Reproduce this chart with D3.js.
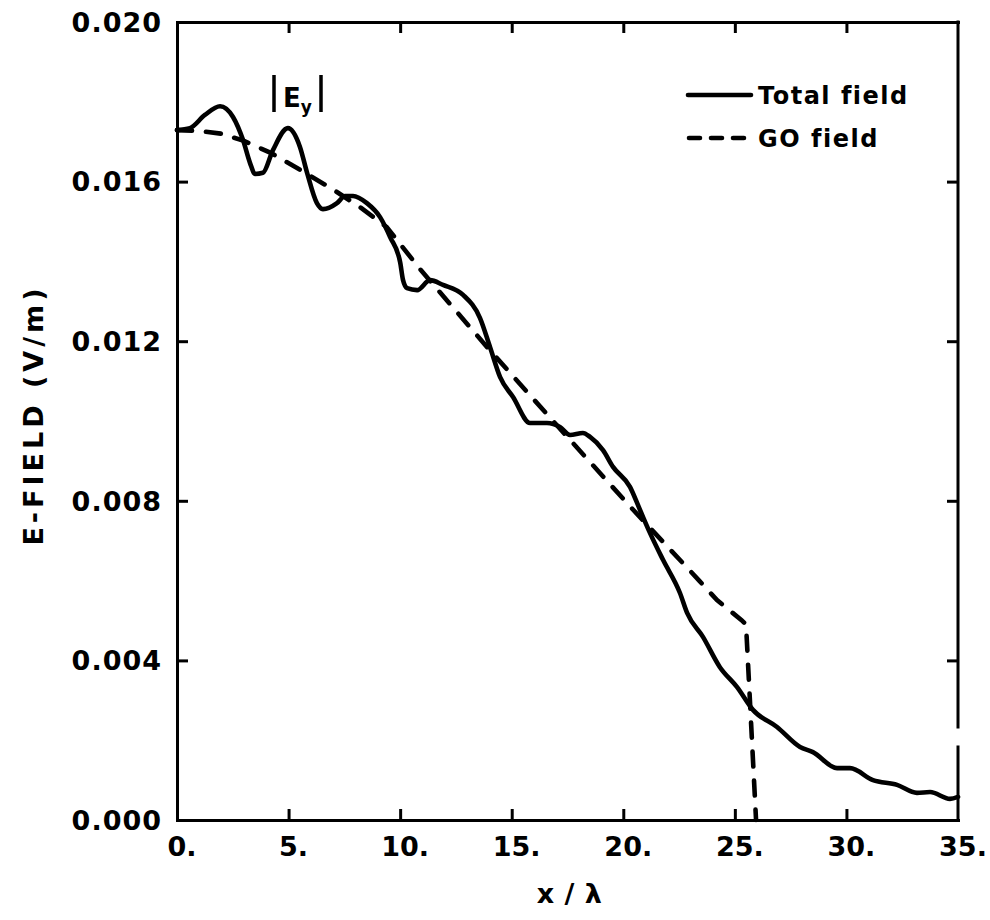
<!DOCTYPE html>
<html>
<head>
<meta charset="utf-8">
<script src="https://cdn.jsdelivr.net/npm/d3@7/dist/d3.min.js"></script>
<style>
  html, body { margin: 0; padding: 0; background: #fff; }
  svg { display: block; }
  text { font-family: "DejaVu Sans", sans-serif; font-weight: bold; fill: #000; }
</style>
</head>
<body>
<svg id="chart" width="990" height="920"></svg>
<script>
// ---- data ----
const totalX = [0, 0.58, 1.25, 1.93, 2.51, 2.96, 3.27, 3.50, 3.85, 4.30, 4.97, 5.51, 5.83, 6.27, 6.54, 7.17, 7.53, 7.89, 8.51, 9.10, 9.55, 10.0, 10.13, 10.31, 10.76, 11.34, 11.92, 12.82, 13.58, 14.03, 14.48, 15.06, 15.82, 16.58, 17.16, 17.61, 18.19, 18.51, 19.09, 19.54, 20.30, 20.75, 21.20, 21.78, 22.54, 22.86, 23.57, 24.33, 25.10, 25.81, 26.89, 27.92, 28.50, 29.58, 30.16, 31.19, 32.27, 33.16, 33.75, 34.64, 35.0];
const totalY = [0.01729, 0.01734, 0.01767, 0.01789, 0.01762, 0.01704, 0.01647, 0.01619, 0.01622, 0.01679, 0.01734, 0.01687, 0.01622, 0.01546, 0.01531, 0.01546, 0.01564, 0.01564, 0.01546, 0.01511, 0.01461, 0.01398, 0.01353, 0.01333, 0.01328, 0.01353, 0.01341, 0.01316, 0.01258, 0.01185, 0.01110, 0.01060, 0.00995, 0.00995, 0.00985, 0.00965, 0.00970, 0.00960, 0.00927, 0.00885, 0.00835, 0.00777, 0.00719, 0.00652, 0.00569, 0.00519, 0.00459, 0.00383, 0.00333, 0.00276, 0.00233, 0.00183, 0.00170, 0.00130, 0.00130, 0.00100, 0.00088, 0.00068, 0.00070, 0.00053, 0.00058];
const goX = [0, 1.0, 2.0, 3.0, 4.2, 5.5, 7.0, 8.2, 9.4, 10.9, 13.9, 16.85, 20.4, 23.4, 24.2, 25.3, 25.5, 25.95];
const goY = [0.01729, 0.01727, 0.01720, 0.01702, 0.01672, 0.01630, 0.01580, 0.01536, 0.01486, 0.01380, 0.01185, 0.01000, 0.00780, 0.00600, 0.00551, 0.00501, 0.00490, 0.0];
const xTicks = [0, 5, 10, 15, 20, 25, 30, 35];
const xTickLabels = ["0.", "5.", "10.", "15.", "20.", "25.", "30.", "35."];
const yTicks = [0, 0.004, 0.008, 0.012, 0.016, 0.020];
const yTickLabels = ["0.000", "0.004", "0.008", "0.012", "0.016", "0.020"];
const seriesNames = ["Total field", "GO field"];
const rightGap = [0.00183, 0.00233]; // break in the right frame line

// ---- layout ----
const svg = d3.select("#chart");
const L = 177, R = 958, T = 22, B = 820;
const x = d3.scaleLinear().domain([0, 35]).range([L, R]);
const y = d3.scaleLinear().domain([0, 0.020]).range([B, T]);
const SW = 3;
const LW = 4.6;

function styleAxis(g) {
  g.selectAll("path.domain").attr("stroke", "#000").attr("stroke-width", SW).attr("stroke-linecap", "square");
  g.selectAll(".tick line").attr("stroke", "#000").attr("stroke-width", SW);
  g.selectAll(".tick text").remove();
}

// bottom
const gb = svg.append("g").attr("transform", `translate(0,${B})`)
  .call(d3.axisBottom(x).tickValues(xTicks.slice(1, -1)).tickSize(-11).tickSizeOuter(0));
styleAxis(gb);
// top
const gt = svg.append("g").attr("transform", `translate(0,${T})`)
  .call(d3.axisTop(x).tickValues(xTicks.slice(1, -1)).tickSize(-11).tickSizeOuter(0));
styleAxis(gt);
// left
const gl = svg.append("g").attr("transform", `translate(${L},0)`)
  .call(d3.axisLeft(y).tickValues(yTicks.slice(1, -1)).tickSize(-11).tickSizeOuter(0));
styleAxis(gl);
// right (domain drawn separately with a break)
const gr = svg.append("g").attr("transform", `translate(${R},0)`)
  .call(d3.axisRight(y).tickValues(yTicks.slice(1, -1)).tickSize(-11).tickSizeOuter(0));
styleAxis(gr);
gr.select("path.domain").remove();
gr.append("line").attr("x1", 0).attr("x2", 0).attr("y1", y(0.020)).attr("y2", y(rightGap[1]))
  .attr("stroke", "#000").attr("stroke-width", SW).attr("stroke-linecap", "square");
gr.append("line").attr("x1", 0).attr("x2", 0).attr("y1", y(rightGap[0])).attr("y2", y(0))
  .attr("stroke", "#000").attr("stroke-width", SW).attr("stroke-linecap", "square");

// tick labels
svg.append("g").selectAll("text").data(xTicks).join("text")
  .attr("x", d => x(d) + 5)
  .attr("y", 856)
  .attr("text-anchor", "middle")
  .style("font-size", "27px")
  .text((d, i) => xTickLabels[i]);

svg.append("g").selectAll("text").data(yTicks).join("text")
  .attr("x", 162)
  .attr("y", d => y(d))
  .attr("dy", "0.36em")
  .attr("text-anchor", "end")
  .style("font-size", "27px")
  .style("letter-spacing", "1px")
  .text((d, i) => yTickLabels[i]);

// axis titles
svg.append("text")
  .attr("x", (L + R) / 2 + 2)
  .attr("y", 903)
  .attr("text-anchor", "middle")
  .style("font-size", "27px")
  .style("letter-spacing", "0.5px")
  .text("x / λ");

svg.append("text")
  .attr("transform", `translate(43,${415}) rotate(-90)`)
  .attr("text-anchor", "middle")
  .style("font-size", "27px")
  .style("letter-spacing", "4px")
  .text("E-FIELD (V/m)");

// curves
const totalData = totalX.map((d, i) => [d, totalY[i]]);
const goData = goX.map((d, i) => [d, goY[i]]);

svg.append("path")
  .datum(goData)
  .attr("fill", "none")
  .attr("stroke", "#000")
  .attr("stroke-width", LW)
  .attr("stroke-linecap", "round")
  .attr("stroke-dasharray", "15,14")
  .attr("d", d3.line().x(d => x(d[0])).y(d => y(d[1])).curve(d3.curveLinear));

svg.append("path")
  .datum(totalData)
  .attr("fill", "none")
  .attr("stroke", "#000")
  .attr("stroke-width", LW)
  .attr("stroke-linejoin", "round")
  .attr("stroke-linecap", "round")
  .attr("d", d3.line().x(d => x(d[0])).y(d => y(d[1])).curve(d3.curveMonotoneX));

// |E_y| annotation
const ann = svg.append("g");
ann.append("line").attr("x1", 274).attr("x2", 274).attr("y1", 75).attr("y2", 112)
  .attr("stroke", "#000").attr("stroke-width", 3.5);
ann.append("line").attr("x1", 321).attr("x2", 321).attr("y1", 75).attr("y2", 112)
  .attr("stroke", "#000").attr("stroke-width", 3.5);
const et = ann.append("text").attr("x", 283).attr("y", 107).style("font-size", "26px");
et.append("tspan").text("E");
et.append("tspan").attr("dy", 6).style("font-size", "17px").text("y");

// legend
const leg = svg.append("g");
leg.append("line").attr("x1", 688).attr("x2", 751).attr("y1", 95).attr("y2", 95)
  .attr("stroke", "#000").attr("stroke-width", LW).attr("stroke-linecap", "round");
leg.append("line").attr("x1", 689).attr("x2", 753).attr("y1", 138).attr("y2", 138)
  .attr("stroke", "#000").attr("stroke-width", LW).attr("stroke-linecap", "round")
  .attr("stroke-dasharray", "11,11");
leg.append("text").attr("x", 758).attr("y", 95).attr("dy", "0.36em")
  .style("font-size", "24px").style("letter-spacing", "1.5px").text(seriesNames[0]);
leg.append("text").attr("x", 758).attr("y", 138).attr("dy", "0.36em")
  .style("font-size", "24px").style("letter-spacing", "1.5px").text(seriesNames[1]);
</script>
</body>
</html>
